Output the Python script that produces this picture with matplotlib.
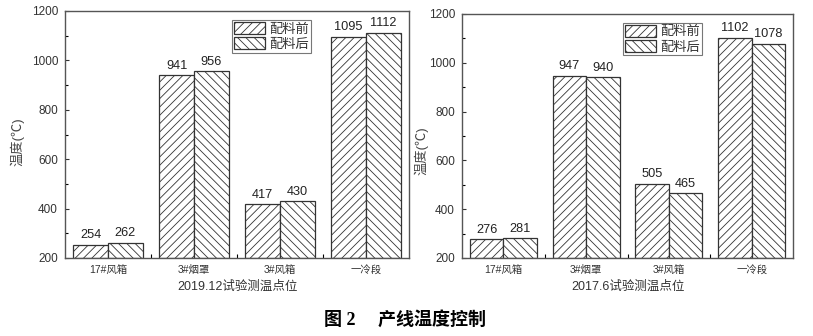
import matplotlib
matplotlib.use("Agg")
import matplotlib.pyplot as plt
import numpy as np
from matplotlib.ticker import MultipleLocator, FixedLocator
from matplotlib.patches import Patch

plt.rcParams['hatch.linewidth'] = 0.6
plt.rcParams['hatch.color'] = '#444444'

categories = ['17#风箱', '3#烟罩', '3#风箱', '一冷段']
series_names = ['配料前', '配料后']
left_before = [254, 941, 417, 1095]
left_after = [262, 956, 430, 1112]
right_before = [276, 947, 505, 1102]
right_after = [281, 940, 465, 1078]
left_xlabel = '2019.12试验测温点位'
right_xlabel = '2017.6试验测温点位'
ylabel = '温度(℃)'
title = '图 2　 产线温度控制'

FAM = ['Liberation Sans', 'Noto Sans CJK SC']
plt.rcParams['font.family'] = FAM

fig = plt.figure(figsize=(8.13, 3.36), dpi=100)

def draw(ax, before, after, xlabel, ypad, ylab_x, ylab_y):
    x = np.arange(len(categories))
    w = 0.405
    ax.bar(x - w/2, np.array(before) - 200, w, bottom=200, facecolor='white',
           edgecolor='#333333', linewidth=0.9, hatch='////')
    ax.bar(x + w/2, np.array(after) - 200, w, bottom=200, facecolor='white',
           edgecolor='#333333', linewidth=0.9, hatch='\\\\\\\\')
    for xi, v in zip(x - w/2, before):
        ax.text(xi, v + 14, str(v), ha='center', va='bottom', fontsize=9.2, color='#222222')
    for xi, v in zip(x + w/2, after):
        ax.text(xi, v + 14, str(v), ha='center', va='bottom', fontsize=9.2, color='#222222')
    ax.set_xlim(-0.5, 3.5)
    ax.set_ylim(200, 1200)
    ax.yaxis.set_major_locator(MultipleLocator(200))
    ax.yaxis.set_minor_locator(MultipleLocator(100))
    ax.set_xticks(x)
    ax.set_xticklabels(categories, fontsize=7.5, color='#333333')
    ax.xaxis.set_minor_locator(FixedLocator([0.5, 1.5, 2.5]))
    ax.tick_params(axis='x', which='major', length=0, pad=5)
    ax.tick_params(axis='x', which='minor', direction='in', length=3, width=0.8)
    ax.tick_params(axis='y', which='major', direction='in', length=3, width=0.8,
                   labelsize=8.5, colors='#333333', pad=ypad)
    ax.tick_params(axis='y', which='minor', direction='in', length=2, width=0.8)
    ax.tick_params(labelcolor='#333333')
    for s in ax.spines.values():
        s.set_linewidth(1.0)
        s.set_color('#555555')
    ax.set_xlabel(xlabel, fontsize=9, color='#333333', labelpad=4)
    ax.set_ylabel(ylabel, fontsize=9.5, color='#444444')
    ax.yaxis.set_label_coords(ylab_x, ylab_y)
    handles = [Patch(facecolor='white', edgecolor='#333333', hatch='////', linewidth=0.9),
               Patch(facecolor='white', edgecolor='#333333', hatch='\\\\\\\\', linewidth=0.9)]
    leg = ax.legend(handles, series_names, loc='upper left', bbox_to_anchor=(0.485, 0.965),
                    fontsize=9.5, frameon=True, fancybox=False, edgecolor='#555555',
                    handlelength=2.4, handleheight=1.1, borderpad=0.15, labelspacing=0.1,
                    handletextpad=0.3, borderaxespad=0.0)
    leg.get_frame().set_linewidth(0.8)
    for t in leg.get_texts():
        t.set_color('#333333')

ax1 = fig.add_axes([65/813, (336-258)/336, 344/813, 247/336])
draw(ax1, left_before, left_after, left_xlabel, 5, -0.118, 0.47)
ax2 = fig.add_axes([462/813, (336-258)/336, 331/813, 244/336])
draw(ax2, right_before, right_after, right_xlabel, 5, -0.100, 0.44)

fig.text(405/813, 1 - 320/336, title, ha='center', va='center', fontsize=13,
         fontweight='bold', family=['Liberation Serif', 'Noto Sans CJK SC'])

fig.savefig('out.png', dpi=100)
